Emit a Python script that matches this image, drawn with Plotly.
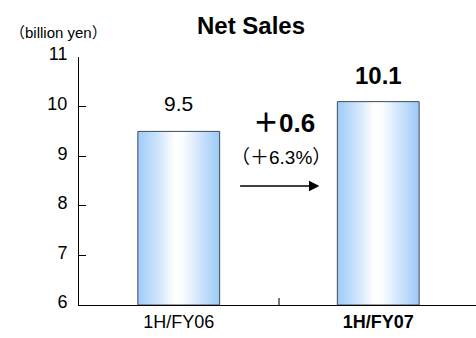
import plotly.graph_objects as go

# Net sales by half-year period (billion yen)
categories = ["1H/FY06", "1H/FY07"]
net_sales = [9.5, 10.1]
tick_labels = ["1H/FY06", "<b>1H/FY07</b>"]
y_ticks = [6, 7, 8, 9, 10, 11]

FONT = "Liberation Sans, Arial, Noto Sans CJK JP, sans-serif"
Y_MIN, Y_MAX = 6, 11
HALF_W = 0.205

# value label styling per bar: (size, bold, pixel lift above bar)
label_style = [(21, False, 14), (24, True, 11)]

change = net_sales[1] - net_sales[0]
change_pct = change / net_sales[0] * 100

fig = go.Figure()

# Bars drawn as filled polygons so they can carry a horizontal gradient
grad = [[0.0, "#9fcbf8"], [0.25, "#cfe5fc"], [0.45, "#ffffff"],
        [0.55, "#fbfdff"], [0.8, "#c6e0fb"], [1.0, "#9cc9f7"]]
for i, v in enumerate(net_sales):
    xs = [i - HALF_W, i - HALF_W, i + HALF_W, i + HALF_W, i - HALF_W]
    ys = [Y_MIN, v, v, Y_MIN, Y_MIN]
    fig.add_trace(go.Scatter(
        x=xs, y=ys, mode="lines", fill="toself",
        fillgradient=dict(type="horizontal", colorscale=grad),
        line=dict(color="#3e4a58", width=1),
        hoverinfo="skip", showlegend=False,
    ))
    size, bold, lift = label_style[i]
    txt = f"{v:.1f}"
    fig.add_annotation(
        x=i, y=v, text=f"<b>{txt}</b>" if bold else txt, showarrow=False,
        yanchor="bottom", yshift=lift,
        font=dict(family=FONT, size=size, color="black"),
    )

# Change between the two periods
fig.add_annotation(
    x=0.53, y=9.67, text=f"<b>＋{change:.1f}</b>", showarrow=False,
    font=dict(family=FONT, size=26, color="black"),
)
fig.add_annotation(
    x=0.515, y=8.98, text=f"（＋{change_pct:.1f}%）", showarrow=False,
    font=dict(family=FONT, size=19, color="black"),
)
fig.add_annotation(
    x=0.705, y=8.40, ax=0.30, ay=8.40, axref="x", ayref="y",
    xref="x", yref="y", text="", showarrow=True,
    arrowhead=2, arrowsize=1.3, arrowwidth=1.6, arrowcolor="black",
)

# Unit label
fig.add_annotation(
    xref="paper", yref="paper", x=-0.18, y=1.1,
    xanchor="left", yanchor="middle", text="（billion yen）",
    showarrow=False, font=dict(family=FONT, size=15, color="black"),
)

fig.update_layout(
    width=476, height=338,
    margin=dict(l=79, r=0, t=57, b=33),
    paper_bgcolor="white", plot_bgcolor="white",
    title=dict(
        text="<b>Net Sales</b>", x=251 / 476, y=1 - 26 / 338,
        xanchor="center", yanchor="middle",
        font=dict(family=FONT, size=24, color="black"),
    ),
    font=dict(family=FONT, color="black"),
    xaxis=dict(
        range=[-0.5, 1.49], tickvals=[0, 1], ticktext=tick_labels,
        showline=True, linecolor="black", linewidth=1,
        ticks="", showgrid=False, zeroline=False,
        tickfont=dict(family=FONT, size=18, color="black"),
        minor=dict(tickmode="array", tickvals=[0.5], ticks="inside",
                   ticklen=7, tickcolor="#777777", tickwidth=1.5),
    ),
    yaxis=dict(
        range=[Y_MIN, Y_MAX], tickvals=y_ticks,
        showline=True, linecolor="black", linewidth=1,
        ticks="inside", ticklen=7, tickcolor="black",
        showgrid=False, zeroline=False,
        ticklabelstandoff=7, ticklabelshift=-3,
        tickfont=dict(family=FONT, size=18, color="black"),
    ),
)

fig.write_html("out.html")
